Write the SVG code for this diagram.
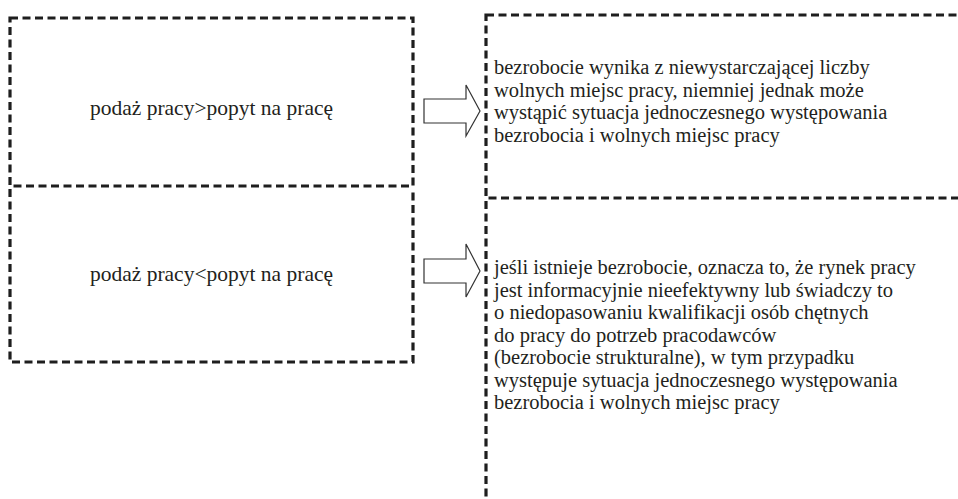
<svg xmlns="http://www.w3.org/2000/svg" width="958" height="499" viewBox="0 0 958 499">
<style>
.box{fill:none;stroke:#1e1e1e;stroke-width:3.2;stroke-dasharray:8 4.5}
.lt{font-size:21.5px;fill:#231f20;text-anchor:middle}
.rt{font-size:20.5px;fill:#231f20}
.arr{fill:#fff;stroke:#333;stroke-width:1.2}
</style>
<rect width="958" height="499" fill="#fff"/>
<g id="n1">
<rect class="box" x="10" y="18" width="403" height="168"/>
<text class="lt" x="211.5" y="115" font-family="Liberation Serif, Times New Roman, DejaVu Serif, serif">podaż pracy&gt;popyt na pracę</text>
</g>
<g id="n2">
<path class="box" d="M10,189 V362 H413 V189"/>
<text class="lt" x="211.5" y="281" font-family="Liberation Serif, Times New Roman, DejaVu Serif, serif">podaż pracy&lt;popyt na pracę</text>
</g>
<g id="n3" font-family="Liberation Serif, Times New Roman, DejaVu Serif, serif">
<rect class="box" x="486" y="15" width="520" height="183"/>
<text class="rt" x="494" y="74">bezrobocie wynika z niewystarczającej liczby</text>
<text class="rt" x="494" y="97">wolnych miejsc pracy, niemniej jednak może</text>
<text class="rt" x="494" y="119">wystąpić sytuacja jednoczesnego występowania</text>
<text class="rt" x="494" y="142">bezrobocia i wolnych miejsc pracy</text>
</g>
<g id="n4" font-family="Liberation Serif, Times New Roman, DejaVu Serif, serif">
<path class="box" d="M486,201 V540"/>
<text class="rt" x="494" y="274">jeśli istnieje bezrobocie, oznacza to, że rynek pracy</text>
<text class="rt" x="494" y="297">jest informacyjnie nieefektywny lub świadczy to</text>
<text class="rt" x="494" y="319">o niedopasowaniu kwalifikacji osób chętnych</text>
<text class="rt" x="494" y="342">do pracy do potrzeb pracodawców</text>
<text class="rt" x="494" y="364">(bezrobocie strukturalne), w tym przypadku</text>
<text class="rt" x="494" y="387">występuje sytuacja jednoczesnego występowania</text>
<text class="rt" x="494" y="409">bezrobocia i wolnych miejsc pracy</text>
</g>
<g id="connectors">
<polygon class="arr" points="424,99 466,99 466,85 480,111 466,136 466,123 424,123"/>
<polygon class="arr" points="424,259 466,259 466,244 480,271 466,297 466,283 424,283"/>
</g>
</svg>
